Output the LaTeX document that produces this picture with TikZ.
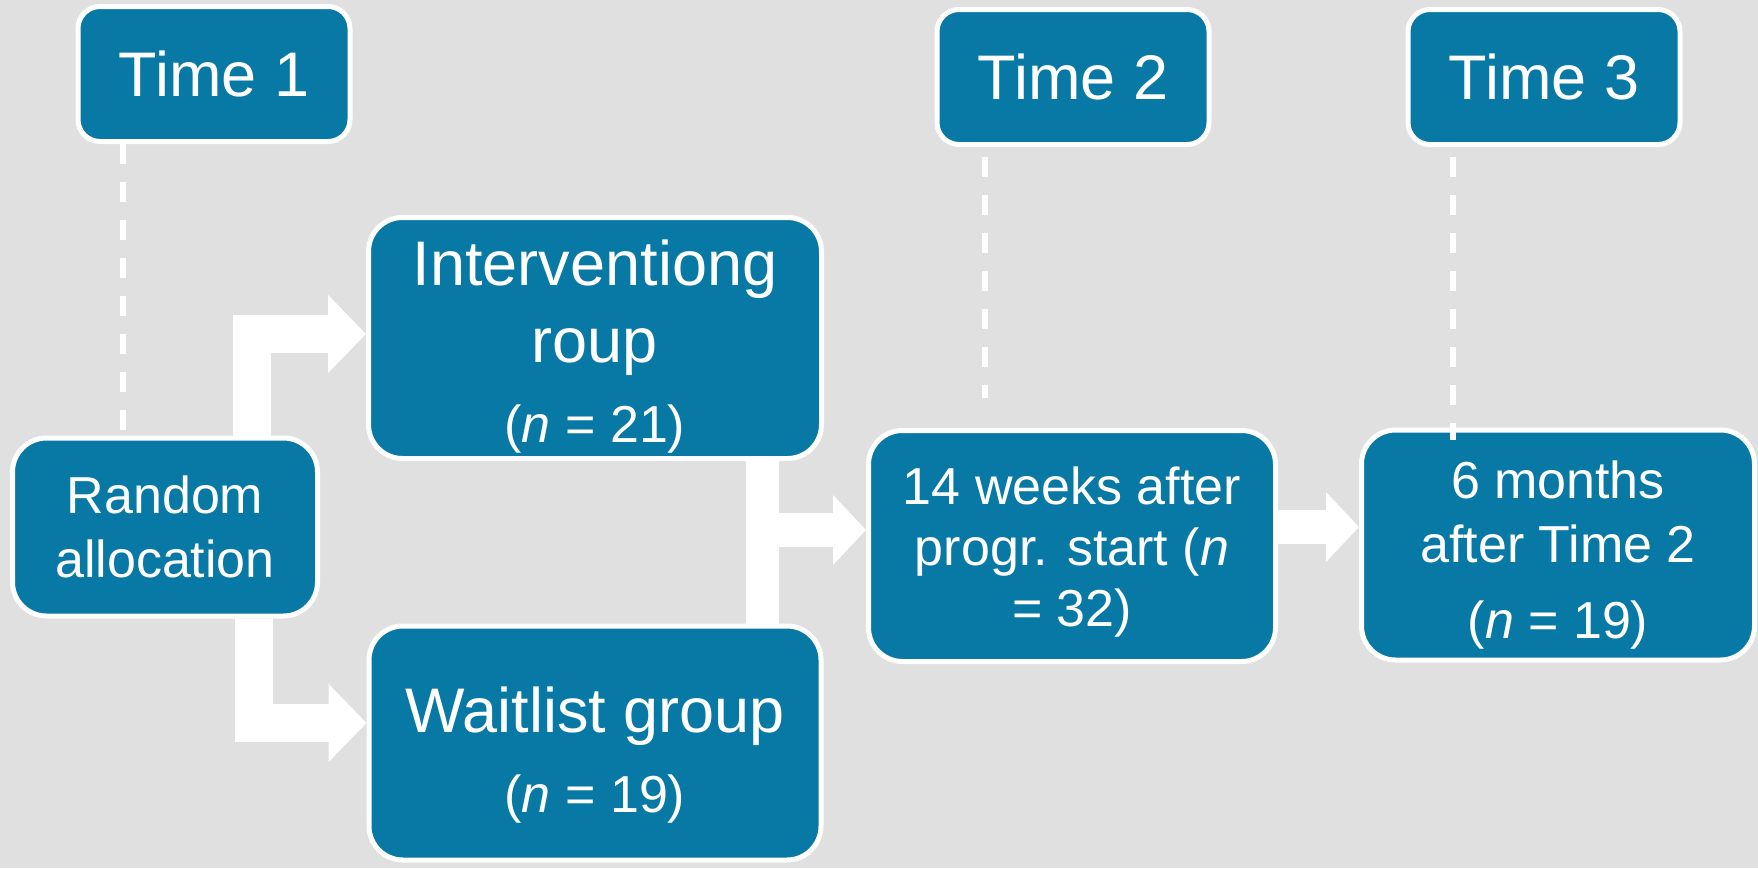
\documentclass[tikz,border=0pt]{standalone}
\usepackage{fontspec}
\setmainfont{Liberation Sans}
\usetikzlibrary{arrows.meta}

\definecolor{boxblue}{RGB}{7,121,164}
\definecolor{slide}{RGB}{224,224,224}

\newcommand\bigfont{\fontsize{63}{77}\selectfont}
\newcommand\smallfont{\fontsize{52}{64}\selectfont}
% invisible height on the first line, pushes the text down
\newcommand\padabove[1]{\rule{0pt}{#1}}

\begin{document}
\begin{tikzpicture}[x=1pt, y=-1pt,
  stage/.style={draw=white, line width=5pt, fill=boxblue, text=white,
    rounded corners=34pt, align=center, inner sep=0pt, font=\smallfont},
  timebox/.style={stage, rounded corners=22pt, minimum width=272pt,
    minimum height=135pt, font=\bigfont},
  wide/.style={draw=white, line width=38pt, -{Triangle[width=76pt,length=38pt]}},
  narrow/.style={draw=white, line width=34pt, -{Triangle[width=68pt,length=33pt]}},
  guide/.style={draw=white, line width=6pt, dash pattern=on 20pt off 18pt}]

  % slide background
  \useasboundingbox (0,0) rectangle (1758,868);
  \fill[slide] (0,0) rectangle (1758,868);

  % time points
  \node[timebox] (t1) at (214,74) {Time 1};
  \node[timebox] (t2) at (1073,77) {Time 2};
  \node[timebox] (t3) at (1544,77) {Time 3};

  % stages
  \node[stage, minimum width=305pt, minimum height=178pt] (rand) at (165,527)
    {Random\\allocation};
  \node[stage, font=\bigfont, minimum width=453pt, minimum height=241pt] (interv) at (595,338)
    {\padabove{62pt}Interventiong\\roup\\[3pt]{\smallfont (\textit{n} = 21)}};
  \node[stage, font=\bigfont, minimum width=452pt, minimum height=234pt] (wait) at (595,743)
    {\padabove{69pt}Waitlist group\\[3pt]{\smallfont (\textit{n} = 19)}};
  \node[stage, font=\fontsize{52}{61}\selectfont, minimum width=407pt, minimum height=231pt] (weeks) at (1072,546)
    {\padabove{49pt}14 weeks after\\progr. start (\textit{n}\\= 32)};
  \node[stage, minimum width=393pt, minimum height=230pt] (six) at (1558,545)
    {\padabove{58pt}6 months\\after Time 2\\[12pt](\textit{n} = 19)};

  % dashed guides from the time points
  \draw[guide] ([xshift=-91pt]t1.south) -- ++(0,288);
  \draw[guide] ([xshift=-88pt,yshift=-10pt]t2.south) -- ++(0,241);
  \draw[guide] ([xshift=-91pt,yshift=-10pt]t3.south) -- ++(0,283);

  % allocation arrows
  \draw[wide] ([xshift=87pt]rand.north) |- ([yshift=4pt]interv.west);
  \draw[wide] ([xshift=89pt]rand.south) |- ([yshift=20pt]wait.west);

  % both groups into time 2
  \draw[white, line width=33pt] ([xshift=167pt]interv.south) -- ([xshift=167pt]wait.north);
  \coordinate (merge) at (763,530);
  \draw[narrow] (merge) -- (merge -| weeks.west);

  \draw[narrow] ([yshift=19pt]weeks.east) -- ([yshift=18pt]six.west);

\end{tikzpicture}
\end{document}
